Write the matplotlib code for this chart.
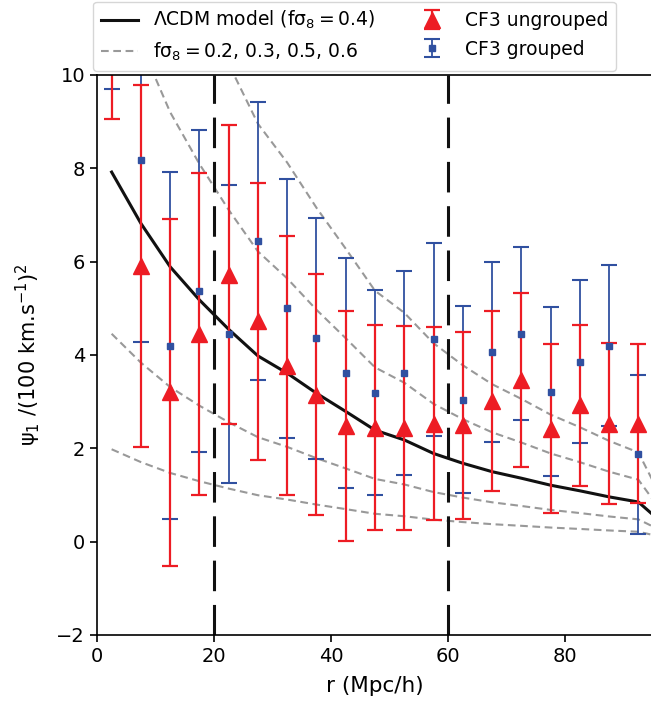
import matplotlib
matplotlib.use('Agg')
import matplotlib.pyplot as plt
import numpy as np

plt.rcParams['font.size'] = 14
plt.rcParams['mathtext.default'] = 'regular'

# bin centres (Mpc/h)
r = [2.5, 7.5, 12.5, 17.5, 22.5, 27.5, 32.5, 37.5, 42.5, 47.5,
     52.5, 57.5, 62.5, 67.5, 72.5, 77.5, 82.5, 87.5, 92.5]

# CF3 ungrouped
psi_ung = [14.0, 5.90, 3.20, 4.45, 5.72, 4.72, 3.77, 3.15, 2.48, 2.44,
           2.44, 2.53, 2.49, 3.02, 3.47, 2.42, 2.92, 2.53, 2.53]
err_ung = [4.95, 3.88, 3.72, 3.44, 3.20, 2.97, 2.77, 2.58, 2.47, 2.20,
           2.19, 2.07, 2.00, 1.93, 1.86, 1.81, 1.73, 1.73, 1.71]

# CF3 grouped
psi_grp = [12.0, 8.17, 4.20, 5.37, 4.45, 6.45, 5.00, 4.36, 3.61, 3.19,
           3.61, 4.34, 3.04, 4.07, 4.46, 3.21, 3.86, 4.20, 1.87]
err_grp = [2.30, 3.90, 3.72, 3.45, 3.19, 2.98, 2.77, 2.58, 2.47, 2.20,
           2.19, 2.07, 2.00, 1.93, 1.86, 1.81, 1.74, 1.72, 1.71]

# LCDM model (f sigma8 = 0.4)
r_model = r + [97.5]
psi_model = [7.92, 6.82, 5.89, 5.18, 4.55, 3.98, 3.61, 3.18, 2.79, 2.39,
             2.18, 1.89, 1.68, 1.50, 1.36, 1.21, 1.09, 0.96, 0.85, 0.30]
fs8_model = 0.4
fs8_alt = [0.2, 0.3, 0.5, 0.6]

red = '#ed1c24'
blue = '#3050a0'

fig = plt.figure(figsize=(6.51, 7.04), dpi=100)
ax = fig.add_axes([97/651, 69/704, 556/651, 560/704])

model = np.array(psi_model)
lab_model = r'ΛCDM model (fσ$_8 = 0.4$)'
lab_alt = r'fσ$_8 = $0.2, 0.3, 0.5, 0.6'
h_model, = ax.plot(r_model, model, color='#111111', lw=2.2)
for fs in fs8_alt:
    # psi_1 scales as (f sigma8)^2
    h_alt, = ax.plot(r_model, model * (fs / fs8_model)**2, color='#999999',
                     lw=1.5, ls=(0, (3.7, 2.2)))

ax.axvline(20, color='#111111', lw=2.2, ls=(0, (10, 4.5)))
ax.axvline(60, color='#111111', lw=2.2, ls=(0, (10, 4.5)))

h_grp = ax.errorbar(r, psi_grp, yerr=err_grp, fmt='s', color=blue, ms=5,
                    elinewidth=1.3, capsize=6, capthick=1.5)
h_ung = ax.errorbar(r, psi_ung, yerr=err_ung, fmt='^', color=red, ms=12,
                    elinewidth=1.6, capsize=6, capthick=1.6)

ax.set_xlim(0, 95)
ax.set_ylim(-2, 10)
ax.set_xticks([0, 20, 40, 60, 80])
ax.set_yticks([-2, 0, 2, 4, 6, 8, 10])
ax.tick_params(length=5, width=1.2)
for sp in ax.spines.values():
    sp.set_linewidth(1.2)
ax.set_xlabel('r (Mpc/h)', fontsize=15.5, labelpad=7)
ax.set_ylabel(r'ψ$_1$ /(100 km.s$^{-1}$)$^2$', fontsize=15, labelpad=10)

ax.legend([h_model, h_alt, h_ung, h_grp],
          [lab_model, lab_alt, 'CF3 ungrouped', 'CF3 grouped'],
          ncol=2, loc='upper left', bbox_to_anchor=(-0.007, 1.131),
          borderaxespad=0, fontsize=13.5)

fig.savefig('out.png', dpi=100)
